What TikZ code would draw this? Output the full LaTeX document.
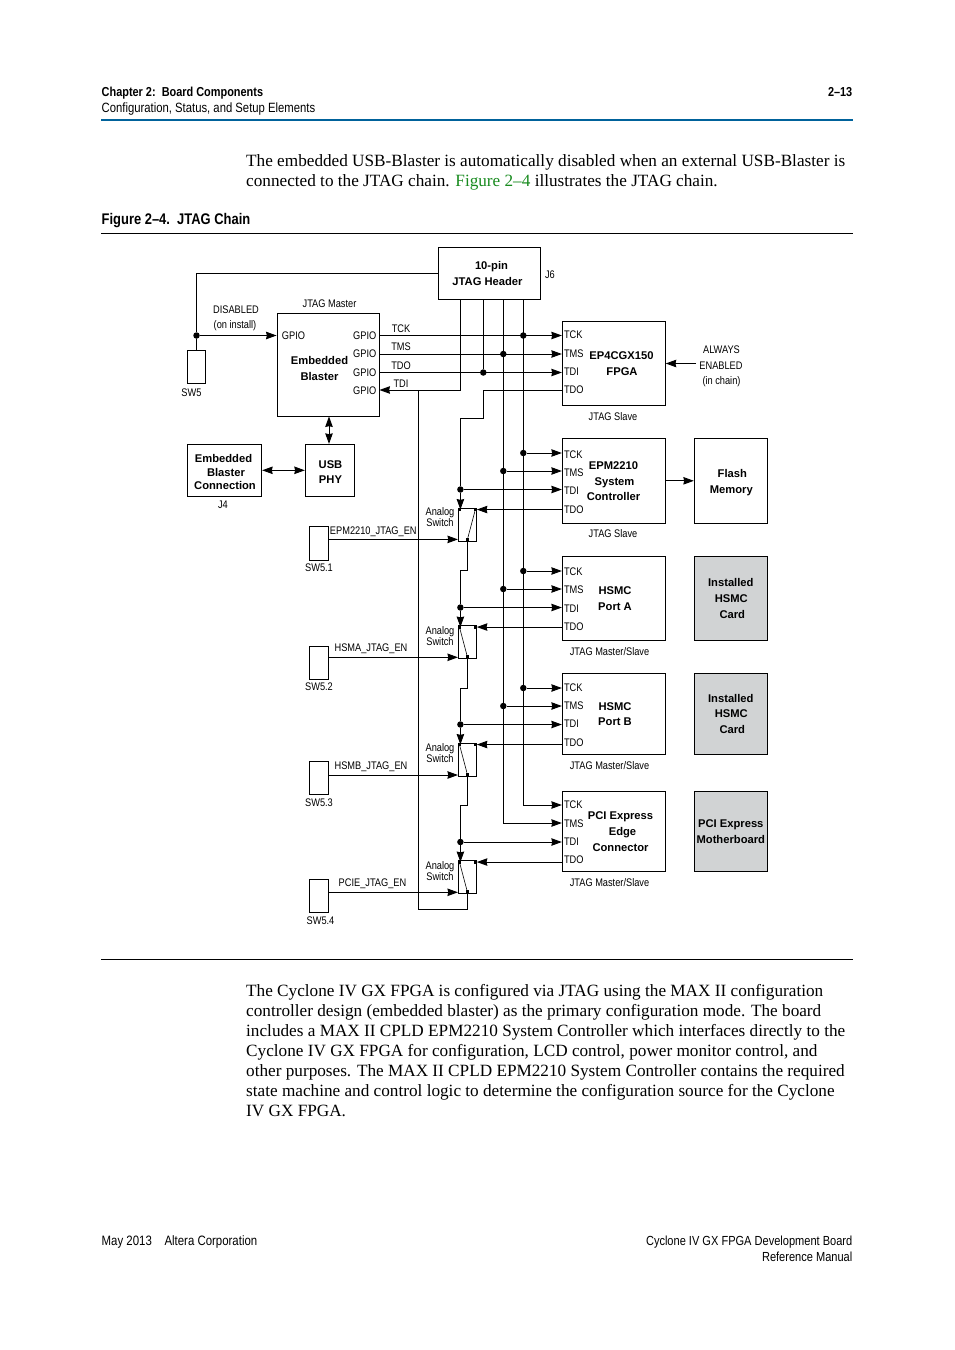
\documentclass[tikz,border=0pt]{standalone}
\usepackage{fontspec}
\usetikzlibrary{arrows.meta}
\setmainfont{Liberation Sans}
\newfontfamily\narrowfont[FakeStretch=0.84]{Liberation Sans}
\newfontfamily\bodyfont{Liberation Serif}
\definecolor{altablue}{HTML}{00629B}
\definecolor{linkgreen}{HTML}{178A1E}
\definecolor{cardgray}{HTML}{D1D3D4}
\tikzset{
    wire/.style={line width=0.9pt},
    feed/.style={wire,-{Stealth[length=10.5pt,width=7.5pt,inset=0.8pt]}},
    both/.style={wire,{Stealth[length=10.5pt,width=7.5pt,inset=0.8pt]}-{Stealth[length=10.5pt,width=7.5pt,inset=0.8pt]}},
    blockbox/.style={draw,line width=0.9pt,font=\fontsize{11.2}{15.8}\selectfont\bfseries,align=center,inner sep=0pt},
    lab/.style={font=\narrowfont\fontsize{11}{15.5}\selectfont,inner sep=0pt,align=center,yshift=-0.7pt},
    boldlab/.style={lab,font=\fontsize{11.2}{15.8}\selectfont\bfseries},
    swlab/.style={lab,font=\narrowfont\fontsize{11}{9.5}\selectfont},
    pin/.style={lab,anchor=west},
    dot/.style={circle,fill=black,inner sep=0pt,minimum size=6.5pt},
    cont/.style={fill=black,inner sep=0pt,minimum size=3pt},
    pagehead/.style={font=\narrowfont\fontsize{13}{16}\selectfont,inner sep=0pt,anchor=base west,align=left},
    bodytext/.style={font=\bodyfont\fontsize{17.2}{20}\selectfont,inner sep=0pt,anchor=north west,align=left},
}
\begin{document}
\begin{tikzpicture}[x=1pt,y=-1pt]
    \useasboundingbox (0,0) rectangle (954,1350);

    % page furniture
    \node[pagehead,font=\narrowfont\fontsize{13}{16}\selectfont\bfseries] (chap) at (101.5,96) {Chapter 2:\ \ Board Components};
    \node[pagehead,font=\narrowfont\fontsize{13.45}{16}\selectfont] (sect) at (101.5,112) {Configuration, Status, and Setup Elements};
    \node[pagehead,font=\narrowfont\fontsize{13}{16}\selectfont\bfseries,anchor=base east] (pgno) at (852.5,96) {2–13};
    \coordinate (headl) at (101,120);
    \coordinate (headr) at (853,120);
    \draw[altablue,line width=1.6pt] (headl) -- (headr);
    \node[bodytext] (para1) at (246,154.5) {The embedded USB-Blaster is automatically disabled when an external USB-Blaster is\\connected to the JTAG chain. \textcolor{linkgreen}{Figure 2–4} illustrates the JTAG chain.};
    \node[pagehead,font=\narrowfont\fontsize{15.4}{16}\selectfont\bfseries] (figtitle) at (101.5,224) {Figure 2–4.\ \ JTAG Chain};
    \coordinate (ruleAl) at (101,233.5);
    \coordinate (ruleAr) at (853,233.5);
    \coordinate (ruleBl) at (101,959.5);
    \coordinate (ruleBr) at (853,959.5);
    \draw[line width=0.7pt] (ruleAl) -- (ruleAr);
    \draw[line width=0.7pt] (ruleBl) -- (ruleBr);
    \node[bodytext] (para2) at (246,984.5) {The Cyclone IV GX FPGA is configured via JTAG using the MAX II configuration\\controller design (embedded blaster) as the primary configuration mode. The board\\includes a MAX II CPLD EPM2210 System Controller which interfaces directly to the\\Cyclone IV GX FPGA for configuration, LCD control, power monitor control, and\\other purposes. The MAX II CPLD EPM2210 System Controller contains the required\\state machine and control logic to determine the configuration source for the Cyclone\\IV GX FPGA.};
    \node[pagehead,font=\narrowfont\fontsize{13.6}{16}\selectfont] (date) at (101.5,1245) {May 2013\ \ \ \ Altera Corporation};
    \node[pagehead,font=\narrowfont\fontsize{13.15}{16}\selectfont,anchor=base east] (book) at (852.5,1245) {Cyclone IV GX FPGA Development Board};
    \node[pagehead,font=\narrowfont\fontsize{13.15}{16}\selectfont,anchor=base east] (manual) at (852.5,1261) {Reference Manual};

    % blocks
    \node[blockbox,minimum width=102pt,minimum height=52pt] (header) at (489,273.5) {\hspace{5pt}10-pin\\\hspace{-3pt}JTAG Header};
    \node[draw,wire,minimum width=102pt,minimum height=103pt] (blaster) at (328,364.5) {};
    \node[blockbox,minimum width=49.5pt,minimum height=52pt] (phy) at (330,470.3) {};
    \node[blockbox,minimum width=74.4pt,minimum height=52pt] (conn) at (224.5,470.3) {};
    \node[draw,wire,minimum width=103pt,minimum height=84pt] (fpga) at (613.8,363.3) {};
    \node[draw,wire,minimum width=103pt,minimum height=85pt] (epm) at (613.8,480.8) {};
    \node[draw,wire,minimum width=103pt,minimum height=84pt] (porta) at (613.8,598.3) {};
    \node[draw,wire,minimum width=103pt,minimum height=81pt] (portb) at (613.8,713.8) {};
    \node[draw,wire,minimum width=103pt,minimum height=80pt] (pcie) at (613.8,831.3) {};
    \node[blockbox,minimum width=73pt,minimum height=85pt] (flash) at (730.8,480.8) {};
    \node[blockbox,fill=cardgray,minimum width=73pt,minimum height=84pt] (carda) at (730.8,598.3) {Installed\\\hspace{1pt}HSMC\\\hspace{3pt}Card};
    \node[blockbox,fill=cardgray,minimum width=73pt,minimum height=81pt] (cardb) at (730.8,713.8) {Installed\\\hspace{1pt}HSMC\\\hspace{3pt}Card};
    \node[blockbox,fill=cardgray,minimum width=73pt,minimum height=80pt] (mobo) at (730.8,831.3) {PCI Express\\Motherboard};

    % switches and their boxes
    \node[draw,wire,minimum width=18pt,minimum height=33pt] (sw) at (196.5,366.5) {};
    \node[draw,wire,minimum width=19.4pt,minimum height=34pt] (swa) at (319,543.3) {};
    \node[draw,wire,minimum width=19.4pt,minimum height=33.3pt] (swb) at (319,662.7) {};
    \node[draw,wire,minimum width=19.4pt,minimum height=33pt] (swc) at (319,777.8) {};
    \node[draw,wire,minimum width=19.4pt,minimum height=33pt] (swd) at (319,895.8) {};
    \node[draw,wire,minimum width=18pt,minimum height=33pt] (asa) at (467.4,524.5) {};
    \node[draw,wire,minimum width=18pt,minimum height=33pt] (asb) at (467.4,642) {};
    \node[draw,wire,minimum width=18pt,minimum height=33pt] (asc) at (467.4,759.5) {};
    \node[draw,wire,minimum width=18pt,minimum height=33pt] (asd) at (467.4,877) {};

    % contacts of the analog switches
    \foreach \sn in {asa,asb,asc,asd} {
        \node[cont] (\sn l) at ([xshift=1.5pt,yshift=-2pt]\sn.north west) {};
        \node[cont] (\sn r) at ([xshift=-1.5pt,yshift=-2pt]\sn.north east) {};
        \node[cont] (\sn b) at ([yshift=2pt]\sn.south) {};
    }
    \draw[line width=0.6pt] (asab) -- (asar);
    \draw[line width=0.6pt] (asbb) -- (asbl);
    \draw[line width=0.6pt] (ascb) -- (ascl);
    \draw[line width=0.6pt] (asdb) -- (asdl);

    % junctions
    \node[dot] (dsw) at (196.5,335.5) {};
    \node[dot] (dtdi) at (483.3,372.5) {};
    \node[dot] (dtms) at (503.3,354) {};
    \node[dot] (dtck) at (523.3,335.5) {};
    \node[dot] (d1a) at (523.3,453) {};
    \node[dot] (d1b) at (503.3,471) {};
    \node[dot] (d1c) at (460.4,489.5) {};
    \node[dot] (d2a) at (523.3,571) {};
    \node[dot] (d2b) at (503.3,589) {};
    \node[dot] (d2c) at (460.4,607.5) {};
    \node[dot] (d3a) at (523.3,688) {};
    \node[dot] (d3b) at (503.3,706) {};
    \node[dot] (d3c) at (460.4,724.5) {};
    \node[dot] (d4c) at (460.4,842) {};

    % jtag wires
    \coordinate (hdrw) at (460.4,299);
    \coordinate (hdrx) at (483.3,299);
    \coordinate (hdry) at (503.3,299);
    \coordinate (hdrz) at (523.3,299);
    \coordinate (turna) at (460.4,570);
    \coordinate (turnb) at (460.4,688);
    \coordinate (turnc) at (460.4,805);
    \coordinate (bypass) at (418.5,909);
    \draw[wire] (header.west) -| (dsw);
    \draw[wire] (dsw) -- (sw.north);
    \draw[feed] (dsw) -- (blaster.west |- dsw);
    \draw[feed] (blaster.east |- dtck) -- (fpga.west |- dtck);
    \draw[feed] (blaster.east |- dtms) -- (fpga.west |- dtms);
    \draw[feed] (blaster.east |- dtdi) -- (fpga.west |- dtdi);
    \draw[feed] (hdrw) |- (blaster.east |- 0,390);
    \draw[wire] (hdrx) -- (dtdi);
    \draw[feed] (hdry) |- (pcie.west |- 0,823);
    \draw[feed] (hdrz) |- (pcie.west |- 0,805);
    \draw[wire] (fpga.west |- 0,390) -- (483.3,390) -- (483.3,418) -- (460.4,418) -- (d1c);
    \draw[feed] (d1a) -- (epm.west |- d1a);
    \draw[feed] (d1b) -- (epm.west |- d1b);
    \draw[feed] (d1c) -- (epm.west |- d1c);
    \draw[feed] (d2a) -- (porta.west |- d2a);
    \draw[feed] (d2b) -- (porta.west |- d2b);
    \draw[feed] (d2c) -- (porta.west |- d2c);
    \draw[feed] (d3a) -- (portb.west |- d3a);
    \draw[feed] (d3b) -- (portb.west |- d3b);
    \draw[feed] (d3c) -- (portb.west |- d3c);
    \draw[feed] (d4c) -- (pcie.west |- d4c);
    \draw[feed] (epm.west |- asar) -- (asa.north east |- asar);
    \draw[feed] (porta.west |- asbr) -- (asb.north east |- asbr);
    \draw[feed] (portb.west |- ascr) -- (asc.north east |- ascr);
    \draw[feed] (pcie.west |- asdr) -- (asd.north east |- asdr);
    \draw[feed] (d1c) -- (d1c |- asal);
    \draw[feed] (d2c) -- (d2c |- asbl);
    \draw[feed] (d3c) -- (d3c |- ascl);
    \draw[feed] (d4c) -- (d4c |- asdl);
    \draw[wire] (asab) |- (turna) -- (d2c);
    \draw[wire] (asbb) |- (turnb) -- (d3c);
    \draw[wire] (ascb) |- (turnc) -- (d4c);
    \draw[wire] (asdb) |- (bypass) -- (bypass |- 0,390);

    % enable lines
    \draw[feed] (swa.east |- 0,539.4) -- (asa.west |- 0,539.4);
    \draw[feed] (swb.east |- 0,657.3) -- (asb.west |- 0,657.3);
    \draw[feed] (swc.east |- 0,775) -- (asc.west |- 0,775);
    \draw[feed] (swd.east |- 0,892.3) -- (asd.west |- 0,892.3);

    % other arrows
    \draw[both] ([xshift=1pt]blaster.south) -- ([xshift=-1pt]phy.north);
    \draw[both] (conn) -- (phy);
    \draw[feed] (epm.east) -- (flash.west);
    \coordinate (always) at (696,363.5);
    \draw[feed] (always) -- (fpga.east |- always);

    % labels
    \node[lab] (ldis) at (236,309.5) {DISABLED};
    \node[lab] (linst) at (235,324.5) {(on install)};
    \node[lab] (lmaster) at (329.5,303.5) {JTAG Master};
    \node[lab] (lj6) at (550,274.5) {J6};
    \node[lab] (lsw) at (191.5,392.5) {SW5};
    \node[lab] (lj4) at (223,504.5) {J4};
    \node[boldlab] (lemb) at (319.5,367.5) {Embedded\\Blaster};
    \node[boldlab,font=\fontsize{11.2}{14.5}\selectfont\bfseries] (lphy) at (330.5,471.5) {USB\\PHY};
    \node[boldlab,font=\fontsize{11.2}{13.5}\selectfont\bfseries] (lconn) at (225,471.5) {\hspace{-3pt}Embedded\\\hspace{2pt}Blaster\\Connection};
    \node[boldlab] (lflash) at (731.3,481.5) {\hspace{2pt}Flash\\Memory};
    \foreach \yy/\nm in {335/a,353/b,372/c,390/d} {
        \node[lab,anchor=east] (gp\nm) at (376.5,\yy) {GPIO};
    }
    \node[lab] (gpin) at (293.5,335) {GPIO};
    \node[lab] (ltck) at (401,328) {TCK};
    \node[lab] (ltms) at (401,346.5) {TMS};
    \node[lab] (ltdo) at (401,365.5) {TDO};
    \node[lab] (ltdi) at (401,383.5) {TDI};
    \node[lab] (lal) at (721.5,349.5) {ALWAYS};
    \node[lab] (len) at (721,365) {ENABLED};
    \node[lab] (lch) at (721.5,380.5) {(in chain)};

    % pins of the devices
    \foreach \yy/\tx in {334/TCK,353/TMS,371/TDI,389.5/TDO,454/TCK,472/TMS,490/TDI,509/TDO,571/TCK,589.5/TMS,608/TDI,626.5/TDO,687/TCK,705.5/TMS,723/TDI,742.5/TDO,804/TCK,823/TMS,841/TDI,859.5/TDO} {
        \node[pin] at (563.8,\yy) {\tx};
    }
    \node[boldlab] (lfpga) at (621.5,363) {EP4CGX150\\\hspace{1pt}FPGA};
    \node[boldlab] (lepm) at (613.5,480.5) {EPM2210\\\hspace{2pt}System\\Controller};
    \node[boldlab] (lpa) at (615,598) {HSMC\\Port A};
    \node[boldlab] (lpb) at (615,713.5) {HSMC\\Port B};
    \node[boldlab] (lpc) at (620.5,831) {PCI Express\\\hspace{4pt}Edge\\Connector};
    \node[lab] (sl1) at (613,415.5) {JTAG Slave};
    \node[lab] (sl2) at (613,533) {JTAG Slave};
    \node[lab] (ms1) at (609.5,650.5) {JTAG Master/Slave};
    \node[lab] (ms2) at (609.5,764.5) {JTAG Master/Slave};
    \node[lab] (ms3) at (609.5,882) {JTAG Master/Slave};

    % analog switch labels
    \node[swlab] (swla) at (440,516) {Analog\\Switch};
    \node[swlab] (swlb) at (440,635.5) {Analog\\Switch};
    \node[swlab] (swlc) at (440,752.5) {Analog\\Switch};
    \node[swlab] (swld) at (440,870.5) {Analog\\Switch};

    \node[lab] (ena) at (373.3,531) {EPM2210\_JTAG\_EN};
    \node[lab] (enb) at (371,648) {HSMA\_JTAG\_EN};
    \node[lab] (enc) at (371,766) {HSMB\_JTAG\_EN};
    \node[lab] (end) at (372.5,883) {PCIE\_JTAG\_EN};
    \node[lab] (swna) at (319,567.5) {SW5.1};
    \node[lab] (swnb) at (319,686.5) {SW5.2};
    \node[lab] (swnc) at (319,802.5) {SW5.3};
    \node[lab] (swnd) at (320.5,919.5) {SW5.4};
\end{tikzpicture}
\end{document}
